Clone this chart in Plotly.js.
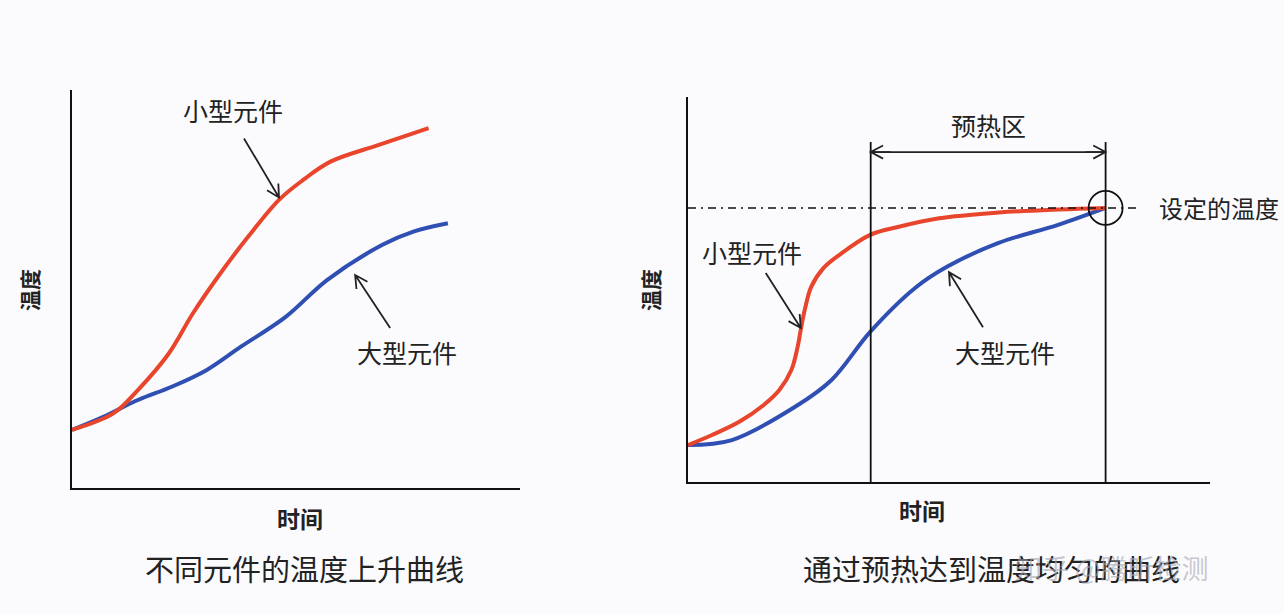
<!DOCTYPE html>
<html>
<head>
<meta charset="utf-8">
<script src="https://cdn.plot.ly/plotly-3.0.1.min.js"></script>
<style>
html,body{margin:0;padding:0;background:#fbfbfd;}
#chart{width:1284px;height:614px;}
</style>
</head>
<body>
<div id="chart"></div>
<script>
// ---------- data ----------
// Left panel: 不同元件的温度上升曲线
const leftSmallTime = [0, 9.3, 14.7, 21.6, 27.0, 33.1, 39.3, 46.2, 51.6, 57.7, 68.5, 79.6];
const leftSmallTemp = [14.6, 18.8, 24.6, 33.8, 43.9, 53.9, 63.1, 72.4, 77.4, 82.0, 86.2, 90.4];
const leftLargeTime = [0, 7.0, 14.7, 22.4, 30.0, 37.7, 47.7, 57.0, 69.3, 76.2, 83.9];
const leftLargeTemp = [14.6, 17.9, 22.1, 25.5, 29.6, 35.5, 43.0, 52.3, 61.1, 64.4, 66.5];

// Right panel: 通过预热达到温度均匀的曲线
const rightSmallTime = [0, 4.6, 9.9, 14.5, 17.5, 19.8, 21.0, 21.7, 22.5, 23.6, 25.9, 29.0, 34.9, 40.4, 48.1, 59.5, 71.0, 80];
const rightSmallTemp = [9.6, 12.2, 15.7, 20.0, 23.9, 29.1, 35.1, 40.3, 45.5, 50.7, 55.5, 59.0, 64.2, 66.3, 68.5, 70.0, 70.8, 71.2];
const rightLargeTime = [0, 8.4, 20.6, 27.5, 34.9, 43.5, 49.6, 59.5, 70.9, 80];
const rightLargeTemp = [9.6, 10.9, 19.6, 26.5, 39.0, 50.4, 55.9, 62.1, 66.8, 71.2];

const preheatStart = 35;
const preheatEnd = 80;
const setTemp = 71.2;

const labels = {
  small: "小型元件",
  large: "大型元件",
  temp: "温度",
  time: "时间",
  preheat: "预热区",
  setTempLabel: "设定的温度",
  captionLeft: "不同元件的温度上升曲线",
  captionRight: "通过预热达到温度均匀的曲线",
  watermark: "知乎 @腾昕检测"
};

// ---------- styling ----------
const W = 1284, H = 614;
const RED = "#e8452c", BLUE = "#2f4fb2", INK = "#222222";
const FONT = "Noto Sans CJK SC";

const L = {x0: 72, x1: 520, yTop: 90, yBot: 488};
const R = {x0: 688, x1: 1210, yTop: 97, yBot: 482};
const dom = p => ({
  x: [p.x0 / W, p.x1 / W],
  y: [1 - p.yBot / H, 1 - p.yTop / H]
});
const dl = dom(L), dr = dom(R);

function line(x, y, color, xa, ya) {
  return {x, y, xaxis: xa, yaxis: ya, mode: "lines", type: "scatter",
    line: {color, width: 4, shape: "spline", smoothing: 1},
    hoverinfo: "skip", showlegend: false};
}

const traces = [
  line(leftLargeTime, leftLargeTemp, BLUE, "x", "y"),
  line(leftSmallTime, leftSmallTemp, RED, "x", "y"),
  line(rightLargeTime, rightLargeTemp, BLUE, "x2", "y2"),
  line(rightSmallTime, rightSmallTemp, RED, "x2", "y2")
];

// arrow helper: pixel-mode path anchored at the tip
function arrow(xref, yref, tx, ty, dx, dy) {
  const len = Math.hypot(dx, dy);
  const ux = dx / len, uy = dy / len;
  const hl = 14, ang = 28 * Math.PI / 180;
  const c = Math.cos(ang), s = Math.sin(ang);
  const h1x = hl * (ux * c - uy * s), h1y = hl * (ux * s + uy * c);
  const h2x = hl * (ux * c + uy * s), h2y = hl * (-ux * s + uy * c);
  const path = `M${dx},${dy} L0,0 M${h1x},${h1y} L0,0 L${h2x},${h2y}`;
  return {type: "path", xref, yref, xsizemode: "pixel", ysizemode: "pixel",
    xanchor: tx, yanchor: ty, path, line: {color: INK, width: 1.8}};
}

const shapes = [
  {type: "line", xref: "x2", yref: "y2", x0: preheatStart, x1: preheatStart, y0: 0, y1: 88.3,
    line: {color: "#111", width: 1.8}},
  {type: "line", xref: "x2", yref: "y2", x0: preheatEnd, x1: preheatEnd, y0: 0, y1: 88.3,
    line: {color: "#111", width: 1.8}},
  {type: "line", xref: "x2", yref: "y2", x0: 0, x1: 86.6, y0: setTemp, y1: setTemp,
    line: {color: "#111", width: 1.5, dash: "8px,5px,2px,5px"}},
  {type: "circle", xref: "x2", yref: "y2", xsizemode: "pixel", ysizemode: "pixel",
    xanchor: preheatEnd, yanchor: setTemp, x0: -17, x1: 17, y0: -17, y1: 17,
    line: {color: "#111", width: 1.8}},
  {type: "line", xref: "x2", yref: "y2", x0: preheatStart, x1: preheatEnd, y0: 85.7, y1: 85.7,
    line: {color: INK, width: 1.8}},
  arrow("x2", "y2", preheatStart, 85.7, 20, 0),
  arrow("x2", "y2", preheatEnd, 85.7, -20, 0),
  arrow("x", "y", 46.2, 73, -35, 59),
  arrow("x", "y", 63.2, 53.5, 35, -53),
  arrow("x2", "y2", 21.6, 40, -35, 55),
  arrow("x2", "y2", 50, 54.5, 34, -55)
];

function txt(text, x, y, xref, yref, size, extra) {
  return Object.assign({text, x, y, xref, yref, showarrow: false,
    xanchor: "center", yanchor: "middle",
    font: {family: FONT, size, color: INK}}, extra || {});
}

const annotations = [
  txt(labels.small, 35.9, 95, "x", "y", 25),
  txt(labels.large, 74.8, 34.2, "x", "y", 25),
  txt(labels.small, 12.2, 59.7, "x2", "y2", 25),
  txt(labels.large, 60.7, 33.8, "x2", "y2", 25),
  txt(labels.preheat, 57.5, 92.7, "x2", "y2", 25),
  txt(labels.setTempLabel, 89.9, setTemp, "x2", "y2", 24, {xanchor: "left"}),
  txt("<b>" + labels.temp + "</b>", 29 / W, 1 - 290 / H, "paper", "paper", 21, {textangle: -90}),
  txt("<b>" + labels.temp + "</b>", 650 / W, 1 - 290 / H, "paper", "paper", 21, {textangle: -90}),
  txt("<b>" + labels.time + "</b>", 300 / W, 1 - 518 / H, "paper", "paper", 23),
  txt("<b>" + labels.time + "</b>", 922 / W, 1 - 510 / H, "paper", "paper", 23),
  txt(labels.captionLeft, 304 / W, 1 - 568 / H, "paper", "paper", 29),
  txt(labels.captionRight, 991 / W, 1 - 568 / H, "paper", "paper", 29),
  txt(labels.watermark, 1112 / W, 1 - 567 / H, "paper", "paper", 27,
    {font: {family: FONT, size: 27, color: "rgba(165,165,178,0.6)"}})
];

function axis(domain, anchor) {
  return {domain, anchor, range: [0, 100], showgrid: false, zeroline: false,
    showticklabels: false, ticks: "", showline: true, linecolor: "#111", linewidth: 2,
    fixedrange: true, mirror: false};
}

const layout = {
  width: W, height: H,
  margin: {l: 0, r: 0, t: 0, b: 0},
  paper_bgcolor: "#fbfbfd",
  plot_bgcolor: "rgba(0,0,0,0)",
  showlegend: false,
  xaxis: axis(dl.x, "y"),
  yaxis: axis(dl.y, "x"),
  xaxis2: axis(dr.x, "y2"),
  yaxis2: axis(dr.y, "x2"),
  shapes, annotations
};

Plotly.newPlot("chart", traces, layout, {staticPlot: true, displayModeBar: false});
</script>
</body>
</html>
